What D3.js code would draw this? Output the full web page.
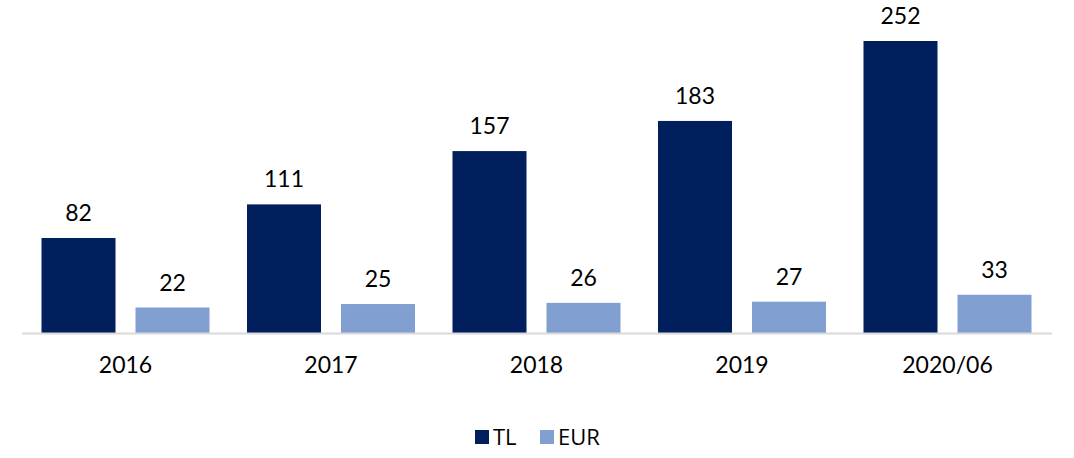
<!DOCTYPE html>
<html>
<head>
<meta charset="utf-8">
<script src="https://cdn.jsdelivr.net/npm/d3@7"></script>
<style>
  body { margin: 0; background: #fff; }
  text { font-family: Lato, "Open Sans", sans-serif; fill: #000; }
</style>
</head>
<body>
<script>
var years = ["2016", "2017", "2018", "2019", "2020/06"];
var series = ["TL", "EUR"];
var tlValues = [82, 111, 157, 183, 252];
var eurValues = [22, 25, 26, 27, 33];
var colors = ["#001f5c", "#819fd0"];

var width = 1074, height = 458,
    left = 22.75, right = 1050.25, baseY = 333;

var svg = d3.select("body").append("svg")
    .attr("width", width)
    .attr("height", height);

var x0 = d3.scaleBand()
    .domain(years)
    .range([left, right])
    .paddingInner(0.1825)
    .paddingOuter(0.09125);

var x1 = d3.scaleBand()
    .domain(series)
    .range([0, x0.bandwidth()])
    .paddingInner(0.2128);

var y = d3.scaleLinear()
    .domain([0, 252])
    .range([baseY, 41]);

var rows = years.map(function(d, i) {
  return {year: d, values: [{key: "TL", v: tlValues[i]}, {key: "EUR", v: eurValues[i]}]};
});

var group = svg.append("g").selectAll("g")
    .data(rows)
    .enter().append("g")
    .attr("transform", function(d) { return "translate(" + x0(d.year) + ",0)"; });

group.selectAll("rect")
    .data(function(d) { return d.values; })
    .enter().append("rect")
    .attr("x", function(d) { return x1(d.key); })
    .attr("y", function(d) { return y(d.v); })
    .attr("width", x1.bandwidth())
    .attr("height", function(d) { return baseY - y(d.v); })
    .attr("fill", function(d, i) { return colors[i]; });

group.selectAll("text")
    .data(function(d) { return d.values; })
    .enter().append("text")
    .attr("x", function(d) { return x1(d.key) + x1.bandwidth() / 2; })
    .attr("y", function(d) { return y(d.v) - 17; })
    .attr("text-anchor", "middle")
    .style("font-size", "23px")
    .text(function(d) { return d.v; });

// baseline
svg.append("line")
    .attr("x1", 22).attr("x2", 1052)
    .attr("y1", baseY + 0.5).attr("y2", baseY + 0.5)
    .attr("stroke", "#d9d9d9")
    .attr("stroke-width", 2);

var xAxis = svg.append("g")
    .attr("transform", "translate(0," + baseY + ")")
    .call(d3.axisBottom(x0).tickSize(0).tickPadding(24));
xAxis.select(".domain").remove();
xAxis.selectAll("text")
    .style("font-family", "Lato, 'Open Sans', sans-serif")
    .style("font-size", "23px")
    .attr("fill", "#000");

// legend
var legend = svg.append("g")
    .attr("transform", "translate(475,430)");
var legendX = [0, 65];
series.forEach(function(s, i) {
  var g = legend.append("g").attr("transform", "translate(" + legendX[i] + ",0)");
  g.append("rect").attr("width", 14).attr("height", 14).attr("fill", colors[i]);
  g.append("text")
    .attr("x", 18).attr("y", 15)
    .style("font-family", "'Open Sans', sans-serif")
    .style("font-size", "22px")
    .text(s);
});
</script>
</body>
</html>
